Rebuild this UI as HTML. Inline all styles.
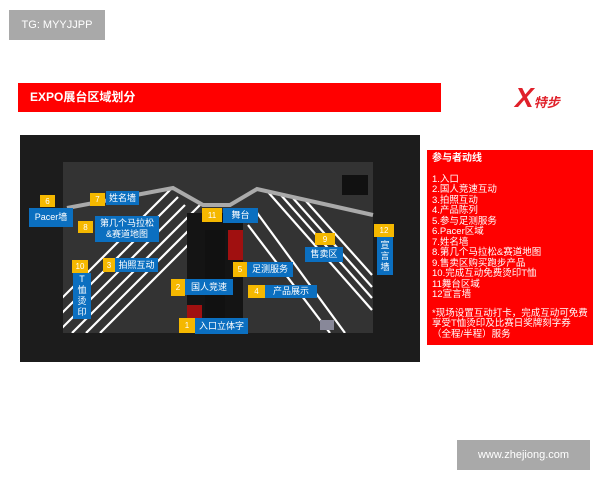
<!DOCTYPE html>
<html><head><meta charset="utf-8"><style>
body{margin:0;width:600px;height:480px;background:#fff;position:relative;overflow:hidden;font-family:"Liberation Sans","Noto Sans CJK SC",sans-serif}
.a{position:absolute}
.y{position:absolute;background:#f5b800;color:#fff;font-size:8px;display:flex;align-items:center;justify-content:center}
.b{position:absolute;background:#0b6fc0;color:#fff;font-size:9px;display:flex;align-items:center;justify-content:center;text-align:center;line-height:11px}
.p div{font-size:9.5px;line-height:10.5px;color:#fff}
</style></head><body>
<div class="a" style="left:9px;top:10px;width:96px;height:30px;background:#a9a9a9;color:#fff;font-size:11px;line-height:30px;text-align:center">TG: MYYJJPP</div>
<div class="a" style="left:18px;top:83px;width:423px;height:29px;background:#f00;color:#fff;font-weight:bold;font-size:12px;line-height:29px;padding-left:12px;box-sizing:border-box">EXPO展台区域划分</div>
<div class="a" style="left:515px;top:84px;color:#e0202a;font-size:28px;font-weight:bold;font-style:italic;line-height:28px">X<span style="font-size:13px">特步</span></div>
<svg class="a" style="left:20px;top:135px" width="400" height="227" viewBox="20 135 400 227">
<defs><clipPath id="c"><rect x="63" y="162" width="310" height="171"/></clipPath></defs>
<rect x="20" y="135" width="400" height="227" fill="#1c1c1c"/>
<rect x="63" y="162" width="310" height="171" fill="#333"/>
<rect x="342" y="175" width="26" height="20" fill="#111"/>
<g clip-path="url(#c)" stroke="#fff" stroke-width="2.2">
<line x1="60" y1="300" x2="170" y2="190"/><line x1="60" y1="315" x2="178" y2="197"/><line x1="60" y1="330" x2="185" y2="205"/>
<line x1="72" y1="333" x2="200" y2="205"/><line x1="86" y1="333" x2="190" y2="229"/><line x1="100" y1="333" x2="190" y2="243"/>
<line x1="268" y1="192" x2="372" y2="310"/><line x1="280" y1="194" x2="372" y2="298"/><line x1="292" y1="197" x2="372" y2="287"/>
<line x1="255" y1="210" x2="345" y2="333"/><line x1="248" y1="225" x2="330" y2="333"/><line x1="305" y1="200" x2="372" y2="275"/>
</g>
<rect x="187" y="213" width="56" height="120" fill="#141414"/>
<rect x="205" y="230" width="20" height="103" fill="#111"/>
<rect x="228" y="230" width="15" height="30" fill="#a01010"/>
<rect x="187" y="305" width="15" height="28" fill="#a01010"/>
<text x="208" y="330" fill="#fff" font-size="12" font-weight="bold">20</text>
<polyline points="67,208 173,188 203,205 230,205 257,189 373,215" fill="none" stroke="#aaa" stroke-width="4"/>
<rect x="320" y="320" width="14" height="10" fill="#889"/>
</svg>
<div class="y" style="left:40px;top:195px;width:15px;height:12px">6</div>
<div class="b" style="left:29px;top:208px;width:44px;height:19px">Pacer墙</div>
<div class="y" style="left:90px;top:193px;width:15px;height:13px">7</div>
<div class="b" style="left:106px;top:191px;width:33px;height:14px">姓名墙</div>
<div class="y" style="left:78px;top:221px;width:15px;height:12px">8</div>
<div class="b" style="left:95px;top:216px;width:64px;height:26px">第几个马拉松<br>&amp;赛道地图</div>
<div class="y" style="left:202px;top:208px;width:20px;height:14px">11</div>
<div class="b" style="left:223px;top:208px;width:35px;height:15px">舞台</div>
<div class="y" style="left:315px;top:233px;width:20px;height:12px">9</div>
<div class="b" style="left:305px;top:247px;width:38px;height:15px">售卖区</div>
<div class="y" style="left:374px;top:224px;width:20px;height:13px">12</div>
<div class="b" style="left:377px;top:237px;width:16px;height:38px">宣<br>言<br>墙</div>
<div class="y" style="left:72px;top:260px;width:16px;height:13px">10</div>
<div class="b" style="left:73px;top:273px;width:18px;height:46px">T<br>恤<br>烫<br>印</div>
<div class="y" style="left:103px;top:258px;width:12px;height:14px">3</div>
<div class="b" style="left:115px;top:258px;width:43px;height:14px">拍照互动</div>
<div class="y" style="left:233px;top:262px;width:14px;height:15px">5</div>
<div class="b" style="left:247px;top:262px;width:46px;height:15px">足测服务</div>
<div class="y" style="left:171px;top:279px;width:14px;height:17px">2</div>
<div class="b" style="left:185px;top:279px;width:48px;height:16px">国人竞速</div>
<div class="y" style="left:248px;top:285px;width:17px;height:13px">4</div>
<div class="b" style="left:265px;top:285px;width:52px;height:13px">产品展示</div>
<div class="y" style="left:179px;top:318px;width:16px;height:15px">1</div>
<div class="b" style="left:195px;top:318px;width:53px;height:16px">入口立体字</div>
<div class="a p" style="left:427px;top:150px;width:166px;height:195px;background:#f00;box-sizing:border-box;padding:4px 5px">
<div style="font-weight:bold;font-size:10px;margin-bottom:10px">参与者动线</div>
<div>1.入口</div><div>2.国人竞速互动</div><div>3.拍照互动</div><div>4.产品陈列</div><div>5.参与足测服务</div><div>6.Pacer区域</div><div>7.姓名墙</div><div>8.第几个马拉松&amp;赛道地图</div><div>9.售卖区购买跑步产品</div><div>10.完成互动免费烫印T恤</div><div>11舞台区域</div><div>12宣言墙</div>
<div style="margin-top:8px">*现场设置互动打卡，完成互动可免费享受T恤烫印及比赛日奖牌刻字券（全程/半程）服务</div>
</div>
<div class="a" style="left:457px;top:440px;width:133px;height:30px;background:#a9a9a9;color:#fff;font-size:11px;line-height:30px;text-align:center">www.zhejiong.com</div>
</body></html>
